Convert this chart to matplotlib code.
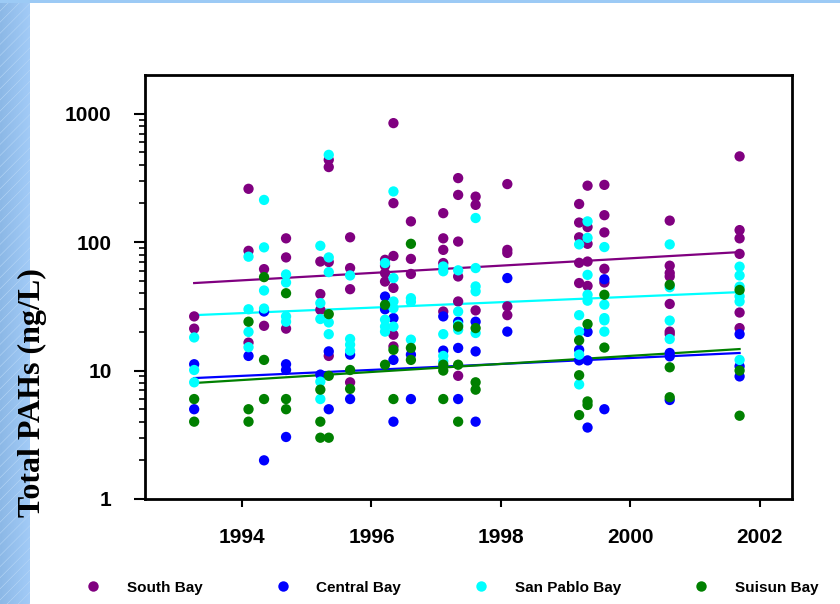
import numpy as np
import matplotlib
matplotlib.use('Agg')
import matplotlib.pyplot as plt
from matplotlib.patches import Rectangle
from matplotlib.lines import Line2D
from matplotlib.ticker import FixedLocator, FuncFormatter, NullFormatter

plt.rcParams['font.family'] = ['Liberation Sans', 'DejaVu Sans']
plt.rcParams['font.weight'] = 'bold'
plt.rcParams['hatch.linewidth'] = 0.4

# sampling cruises (decimal year), one column of points each
cruise_dates = [1993.26, 1994.10, 1994.34, 1994.68, 1995.21, 1995.34, 1995.67,
                1996.21, 1996.34, 1996.61, 1997.11, 1997.34, 1997.61, 1998.10,
                1999.21, 1999.34, 1999.60, 2000.61, 2001.69]

# Total PAHs (ng/L) per cruise
south_bay = [[26.4, 21.2], [260, 85.5, 16.5], [61.6, 22.3], [107, 76, 21.2],
             [70.6, 39.4, 29.7], [437, 384, 70, 13], [109, 62.8, 43, 8.1],
             [72.8, 65.5, 57.4, 49.3], [844, 201, 78, 44, 19, 15.4], [145, 74, 56.5],
             [168, 107, 87, 68.7, 28.8], [315, 233, 101, 54, 34.5, 9.1], [226, 195, 29.4],
             [283, 87, 82.4, 31.6, 27], [198, 142, 109, 69, 48], [275, 131, 97, 70.6, 45.6],
             [279, 162, 119, 62, 48.5], [147, 65.5, 57.5, 54, 33, 20.1, 19.2],
             [465, 124, 107, 81, 28.3, 21.4]]
central_bay = [[11.2, 5.0], [13], [28.8, 2.0], [11.2, 10.1, 3.04], [9.3], [14.1, 5.0],
               [13.3, 6.0], [37.7, 30], [25.6, 12.1, 4.0], [13.3, 6.0], [26.4, 14.3],
               [24, 15, 6], [24, 14.1, 4], [52.5, 20.1], [14.5, 12], [20, 12, 3.6],
               [51.4, 5.0], [13.7, 12.9, 5.9], [19.2, 10.8, 9.0]]
san_pablo_bay = [[18.1, 10.1, 8.1], [77, 30, 20, 15.2], [213, 91, 42, 30.4],
                 [56, 48.5, 26.4, 24], [93.6, 33.5, 25.2, 8.2, 6.0], [478, 76, 58.4, 23.7, 19.2],
                 [55, 17.6, 15.9, 14.3], [68.7, 24.9, 22, 20.1], [248, 52.5, 34.5, 30.6, 22],
                 [36.6, 34.3, 17.4], [64.6, 59.3, 19.2, 13, 11.8], [60.3, 28.8, 22.7, 20.8],
                 [154, 62.8, 45.2, 41.4, 19.6], [], [96, 27, 20.1, 13.3, 7.8],
                 [145, 108, 55.6, 38.9, 35], [91.5, 32.6, 25.6, 24.6, 20.1],
                 [96, 44.5, 24.5, 17.6], [64.4, 55, 45, 37.8, 34.5, 12.1]]
suisun_bay = [[6.0, 4.0], [24, 5.0, 4.0], [53.4, 12.1, 6.0], [40, 6.0, 5.0], [7.1, 4.0, 3.0],
              [27.5, 9.1, 3.0], [10.1, 7.2], [32.5, 11.1], [14.5, 6.0], [97, 15, 12.1],
              [11.1, 10, 6], [22, 11.1, 4], [21.4, 8.1, 7.1], [], [17.2, 9.2, 4.5],
              [23, 5.75, 5.4], [38.9, 15.1], [46.5, 10.6, 6.2], [42.4, 10, 4.45]]

# fitted trend lines (end values)
trend_years = [1993.26, 2001.69]
south_trend = [48, 83.6]
central_trend = [8.74, 13.7]
san_pablo_trend = [27, 40.8]
suisun_trend = [8.0, 14.7]

series = [
    ('South Bay', south_bay, south_trend, '#800080'),
    ('Central Bay', central_bay, central_trend, '#0000ff'),
    ('San Pablo Bay', san_pablo_bay, san_pablo_trend, '#00ffff'),
    ('Suisun Bay', suisun_bay, suisun_trend, '#008000'),
]

fig = plt.figure(figsize=(8.4, 6.04), dpi=100)

# decorative slide band on the left and top
band = fig.add_axes([0, 0, 30 / 840, 1])
grad = np.linspace(0, 1, 64).reshape(1, -1)
band.imshow(grad, aspect='auto', extent=(0, 1, 0, 1),
            cmap=matplotlib.colors.LinearSegmentedColormap.from_list('b', ['#8cb8e6', '#a2cbf7']))
band.add_patch(Rectangle((0, 0), 1, 1, fill=False, hatch='///', edgecolor='#b6d6f6', lw=0))
band.set_xlim(0, 1)
band.set_ylim(0, 1)
band.axis('off')
fig.patches.append(Rectangle((0, 1 - 3 / 604), 1, 3 / 604, transform=fig.transFigure,
                             facecolor='#9ccaf5', edgecolor='none'))

ax = fig.add_axes([145 / 840, 105 / 604, 647 / 840, 424 / 604])

handles = []
for name, data, trend, color in series:
    xs = [d for d, vals in zip(cruise_dates, data) for _ in vals]
    ys = [v for vals in data for v in vals]
    ax.scatter(xs, ys, s=55, color=color, edgecolors='none', zorder=3)
    ax.plot(trend_years, trend, color=color, lw=1.6, zorder=2)
    handles.append(Line2D([], [], ls='none', marker='o', markersize=7.5,
                          markerfacecolor=color, markeredgecolor='none', label=name))

ax.set_yscale('log')
ax.set_ylim(1, 2000)
ax.set_xlim(1992.5, 2002.5)
ax.set_xticks([1994, 1996, 1998, 2000, 2002])
ax.yaxis.set_major_locator(FixedLocator([1, 10, 100, 1000]))
ax.yaxis.set_minor_locator(FixedLocator([m * 10 ** k for k in range(3) for m in range(2, 10)]))
ax.yaxis.set_major_formatter(FuncFormatter(lambda v, p: f'{int(v)}'))
ax.yaxis.set_minor_formatter(NullFormatter())

for sp in ax.spines.values():
    sp.set_linewidth(2)
ax.tick_params(axis='y', which='major', length=8, width=1.5, pad=16, labelsize=15)
ax.tick_params(axis='y', which='minor', length=4, width=1.2)
ax.tick_params(axis='x', which='major', length=6, width=1.5, pad=15, labelsize=15)
ax.tick_params(axis='x', which='minor', bottom=False)

fig.text(32 / 840, 0.35, 'Total PAHs (ng/L)', rotation=90, ha='center', va='center',
         family=['Liberation Serif', 'DejaVu Serif'], fontweight='bold', fontsize=23)

fig.legend(handles=handles, loc='center', bbox_to_anchor=(0.538, 0.027), ncol=4,
           frameon=False, handlelength=1.0, handletextpad=1.7,
           columnspacing=4.75, prop={'weight': 'bold', 'size': 11})

fig.savefig('out.png', dpi=100)
